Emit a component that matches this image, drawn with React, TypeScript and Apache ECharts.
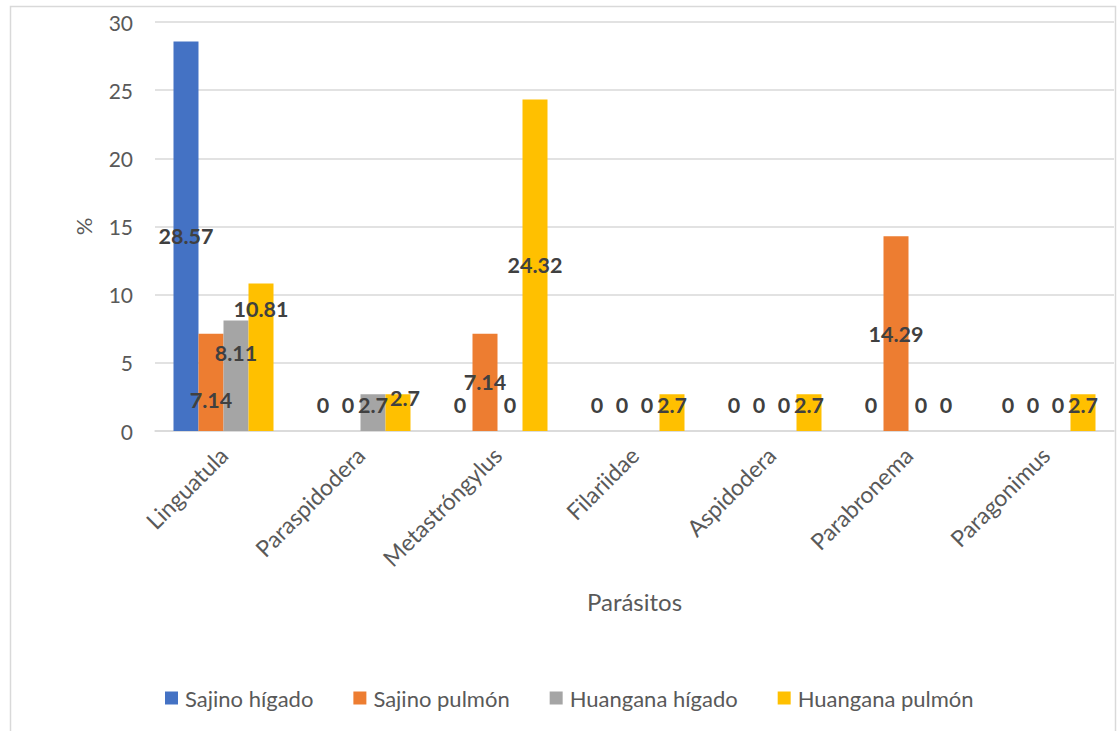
import React, { useEffect, useRef } from "react";
import * as echarts from "echarts";

const categories = [
  "Linguatula",
  "Paraspidodera",
  "Metastróngylus",
  "Filariidae",
  "Aspidodera",
  "Parabronema",
  "Paragonimus",
];
const seriesNames = ["Sajino hígado", "Sajino pulmón", "Huangana hígado", "Huangana pulmón"];
const sajinoHigado = [28.57, 0, 0, 0, 0, 0, 0];
const sajinoPulmon = [7.14, 0, 7.14, 0, 0, 14.29, 0];
const huanganaHigado = [8.11, 2.7, 0, 0, 0, 0, 0];
const huanganaPulmon = [10.81, 2.7, 24.32, 2.7, 2.7, 0, 2.7];
const yTicks = { min: 0, max: 30, interval: 5 };

const colors = ["#4472C4", "#ED7D31", "#A5A5A5", "#FFC000"];
const FONT = "Lato";

// label nudges (series index - category index) -> [dx, dy]
const labelNudge: Record<string, [number, number]> = {
  "1-0": [0, 18],
  "2-0": [0, -23],
  "3-0": [0, -48],
  "3-1": [7, -7],
};

export default function App() {
  const ref = useRef<HTMLDivElement>(null);
  useEffect(() => {
    if (!ref.current) return;
    const chart = echarts.init(ref.current, undefined, { renderer: "svg" });
    const all = [sajinoHigado, sajinoPulmon, huanganaHigado, huanganaPulmon];
    const series = all.map((vals, si) => ({
      name: seriesNames[si],
      type: "bar",
      barGap: "0%",
      barCategoryGap: "27%",
      itemStyle: { color: colors[si] },
      data: vals.map((v, ci) => {
        const small = v < 5;
        const nudge = labelNudge[`${si}-${ci}`] || [0, 0];
        return {
          value: v,
          label: {
            show: true,
            position: small ? "insideBottom" : "inside",
            distance: small ? 15 : 5,
            offset: nudge,
          },
        };
      }),
      label: {
        show: true,
        color: "#404040",
        fontFamily: FONT,
        fontWeight: "bold",
        fontSize: 21.5,
        formatter: (p: any) => String(p.value),
      },
    }));

    chart.setOption({
      animation: false,
      backgroundColor: "#ffffff",
      color: colors,
      graphic: [
        {
          type: "rect",
          shape: { x: 10.5, y: 6.5, width: 1105, height: 740 },
          style: { fill: "none", stroke: "#d9d9d9", lineWidth: 1.5 },
          silent: true,
          z: -10,
        },
      ],
      grid: {
        left: 155,
        right: 4,
        top: 22,
        bottom: 300,
        containLabel: false,
        outerBoundsMode: "none",
      },
      legend: {
        data: seriesNames,
        top: 682,
        left: 160,
        itemWidth: 13,
        itemHeight: 13,
        itemGap: 40,
        icon: "rect",
        textStyle: { color: "#595959", fontFamily: FONT, fontSize: 22, padding: [0, 0, 0, 2] },
      },
      xAxis: {
        type: "category",
        data: categories,
        name: "Parásitos",
        nameLocation: "middle",
        nameGap: 158,
        nameTextStyle: { color: "#595959", fontFamily: FONT, fontSize: 24 },
        axisLine: { lineStyle: { color: "#d9d9d9", width: 1.5 } },
        axisTick: { show: false },
        axisLabel: {
          rotate: 45,
          margin: 20,
          color: "#595959",
          fontFamily: FONT,
          fontSize: 23,
          interval: 0,
        },
      },
      yAxis: {
        type: "value",
        min: yTicks.min,
        max: yTicks.max,
        interval: yTicks.interval,
        name: "%",
        nameLocation: "middle",
        nameGap: 61,
        nameTextStyle: { color: "#595959", fontFamily: FONT, fontSize: 22 },
        axisLine: { show: false },
        axisTick: { show: false },
        axisLabel: { color: "#595959", fontFamily: FONT, fontSize: 21, margin: 22 },
        splitLine: { lineStyle: { color: "#d9d9d9", width: 1.5 } },
      },
      series,
    } as any);
    return () => chart.dispose();
  }, []);
  return (
    <div
      ref={ref}
      style={{ position: "absolute", left: 0, top: 0, width: 1118, height: 731 }}
    />
  );
}
